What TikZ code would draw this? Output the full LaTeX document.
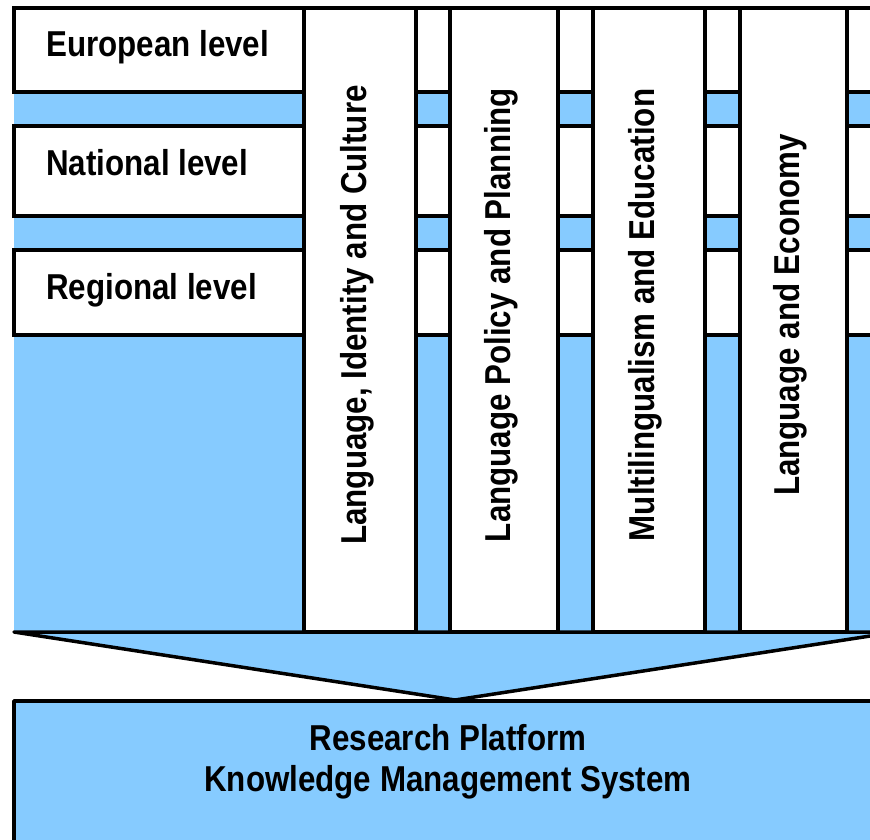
\documentclass[tikz,border=0pt]{standalone}
\usepackage{fontspec}
\newfontfamily\lab[FakeStretch=0.87]{Liberation Sans}
\definecolor{skyfill}{RGB}{134,203,255}
\begin{document}
\begin{tikzpicture}[x=1pt,y=1pt,
  box/.style={draw=black,line width=3.5pt,fill=white},
  bluebox/.style={draw=black,line width=3.5pt,fill=skyfill,line join=round},
  txt/.style={inner sep=0pt,font=\lab\bfseries\fontsize{36}{41}\selectfont}]
\useasboundingbox (0,0) rectangle (870,-839);
\clip (0,0) rectangle (870,-839);
% blue background
\fill[skyfill] (14,-8) rectangle (900,-632);
% level rows
\draw[box] (14,-8) rectangle (900,-92);
\draw[box] (14,-126) rectangle (900,-216);
\draw[box] (14,-250) rectangle (900,-335);
% columns
\draw[box] (304,-8) rectangle (416,-632);
\draw[box] (450,-8) rectangle (558,-632);
\draw[box] (593,-8) rectangle (705,-632);
\draw[box] (740,-8) rectangle (847,-632);
% funnel
\draw[bluebox] (14,-632) -- (896,-632) -- (455,-700) -- cycle;
% bottom box
\draw[bluebox] (14,-701) rectangle (900,-870);
% texts
\node[txt,anchor=base west] (eu) at (46,-56) {European level};
\node[txt,anchor=base west] (na) at (46,-175) {National level};
\node[txt,anchor=base west] (re) at (46,-299) {Regional level};
\node[txt,anchor=base,rotate=90] (c1) at (366,-315) {Language, Identity and Culture};
\node[txt,anchor=base,rotate=90] (c2) at (510,-315) {Language Policy and Planning};
\node[txt,anchor=base,rotate=90] (c3) at (654,-315) {Multilingualism and Education};
\node[txt,anchor=base,rotate=90] (c4) at (799,-315) {Language and Economy};
\node[txt,anchor=base] (rp) at (448,-750) {Research Platform};
\node[txt,anchor=base] (km) at (448,-791) {Knowledge Management System};
\end{tikzpicture}
\end{document}
